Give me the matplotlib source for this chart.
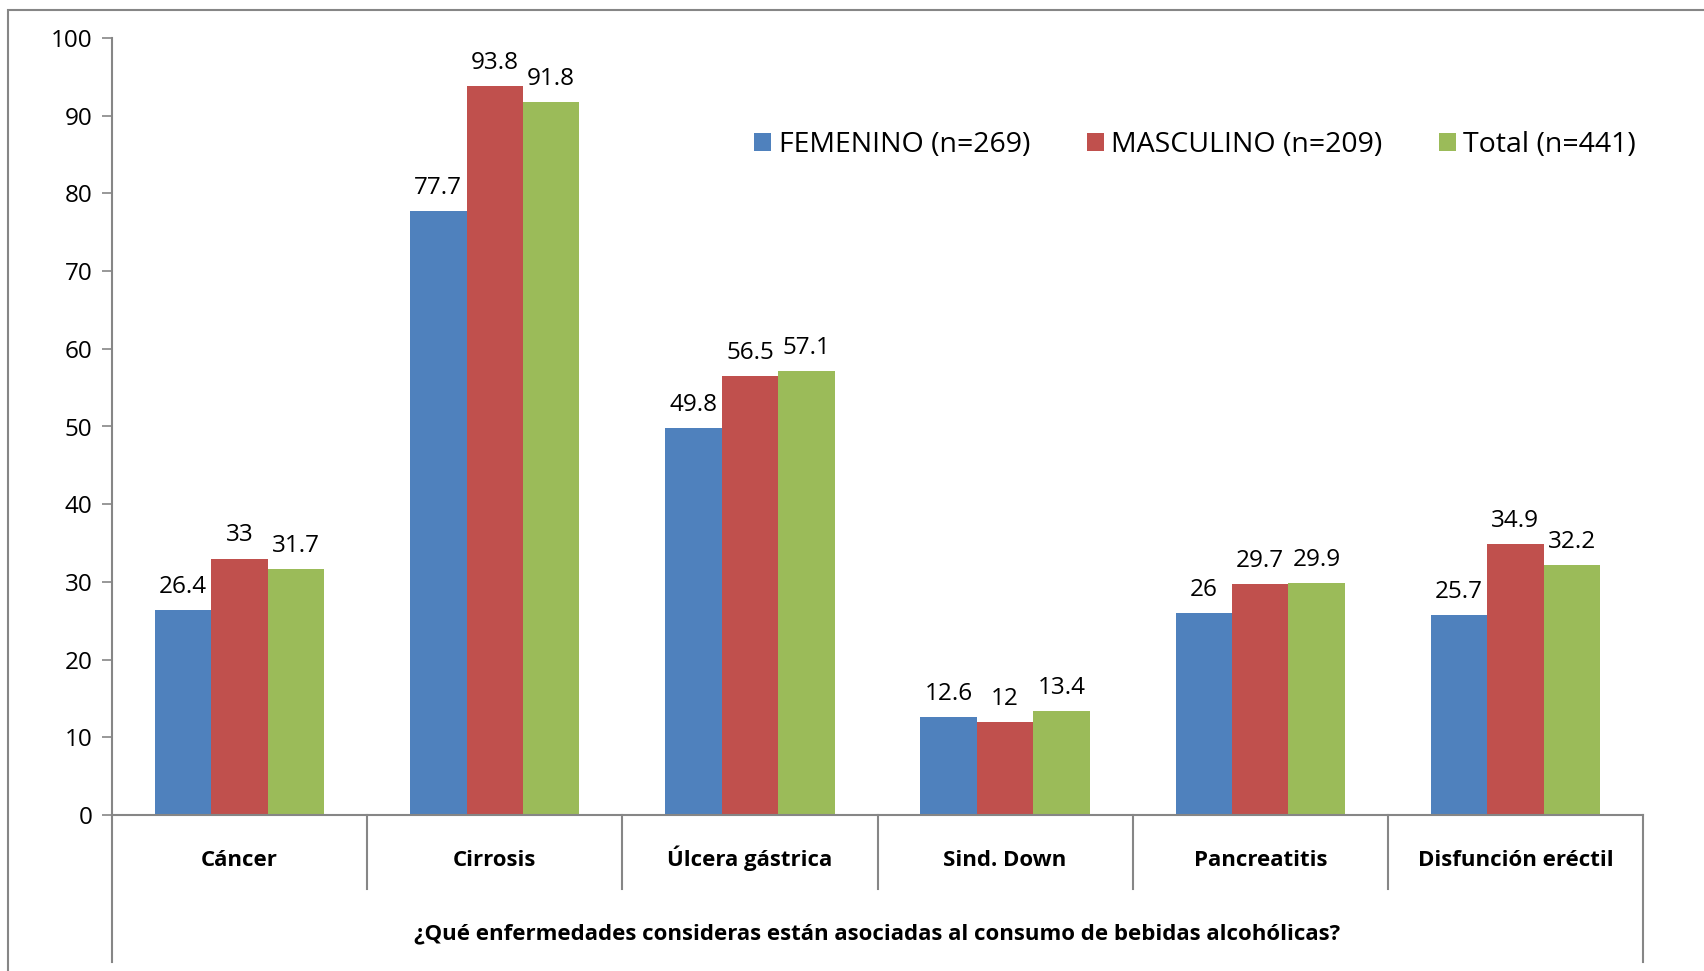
import matplotlib
matplotlib.use("Agg")
import matplotlib.pyplot as plt
import numpy as np
from matplotlib.patches import Rectangle

plt.rcParams["font.family"] = ["Open Sans", "DejaVu Sans"]

CATEGORIES = ["Cáncer", "Cirrosis", "Úlcera gástrica", "Sind. Down", "Pancreatitis", "Disfunción eréctil"]
FEMENINO = [26.4, 77.7, 49.8, 12.6, 26, 25.7]
MASCULINO = [33, 93.8, 56.5, 12, 29.7, 34.9]
TOTAL = [31.7, 91.8, 57.1, 13.4, 29.9, 32.2]
SERIES_LABELS = ["FEMENINO (n=269)", "MASCULINO (n=209)", "Total (n=441)"]
Y_TICKS = [0, 10, 20, 30, 40, 50, 60, 70, 80, 90, 100]
X_TITLE = "¿Qué enfermedades consideras están asociadas al consumo de bebidas alcohólicas?"

COLORS = ["#4F81BD", "#C0504D", "#9BBB59"]
AXIS_GREY = "#868686"

W, H = 1704, 971
fig = plt.figure(figsize=(W / 100, H / 100), dpi=100)
ax = fig.add_axes([112 / W, 1 - 815 / H, (1643 - 112) / W, (815 - 38) / H])

# outer chart frame, cut off at the right and bottom edges
fig.patches.append(Rectangle((8 / W, -0.05), 1.1, 1 - 10 / H + 0.05,
                             transform=fig.transFigure, fill=False,
                             edgecolor=AXIS_GREY, linewidth=1.5))

x = np.arange(len(CATEGORIES))
bw = 0.221
for i, (vals, color, label) in enumerate(zip([FEMENINO, MASCULINO, TOTAL], COLORS, SERIES_LABELS)):
    pos = x + (i - 1) * bw
    ax.bar(pos, vals, width=bw, color=color, label=label, edgecolor="none")
    for px, v in zip(pos, vals):
        ax.annotate(f"{v:g}", (px, v), xytext=(0, 8), textcoords="offset points",
                    ha="center", va="bottom", fontsize=17.5)

ax.set_xlim(-0.5, len(CATEGORIES) - 0.5)
ax.set_ylim(0, 100)
ax.set_yticks(Y_TICKS)
ax.tick_params(axis="y", labelsize=17.5, length=7, color=AXIS_GREY, width=1.2, pad=7)
ax.set_xticks([])

for side in ["top", "right"]:
    ax.spines[side].set_visible(False)
for side in ["left", "bottom"]:
    ax.spines[side].set_color(AXIS_GREY)
    ax.spines[side].set_linewidth(1.5)

# category separators and outer vertical lines of the category table
span = 815 - 38
trans = ax.get_xaxis_transform()
sep_bottom = -(889 - 815) / span
outer_bottom = -(962 - 815) / span
for b in np.arange(0.5, len(CATEGORIES) - 0.5):
    ax.plot([b, b], [0, sep_bottom], transform=trans, color=AXIS_GREY, lw=1.5, clip_on=False)
for b in [-0.5, len(CATEGORIES) - 0.5]:
    ax.plot([b, b], [0, outer_bottom], transform=trans, color=AXIS_GREY, lw=1.5, clip_on=False)

cat_y = -(866 - 815) / span
for xi, name in zip(x, CATEGORIES):
    ax.text(xi, cat_y, name, transform=trans, ha="center", va="baseline",
            fontsize=16, fontweight="bold")
ax.text((len(CATEGORIES) - 1) / 2, -(939 - 815) / span, X_TITLE, transform=trans,
        ha="center", va="baseline", fontsize=16, fontweight="bold")

ax.legend(loc="center right", bbox_to_anchor=(1.003, 1 - (145 - 38) / span),
          ncol=3, frameon=False, fontsize=20.5, handlelength=0.6, handleheight=0.6,
          handletextpad=0.25, columnspacing=2.0, borderaxespad=0)

fig.savefig("out.png", dpi=100)
